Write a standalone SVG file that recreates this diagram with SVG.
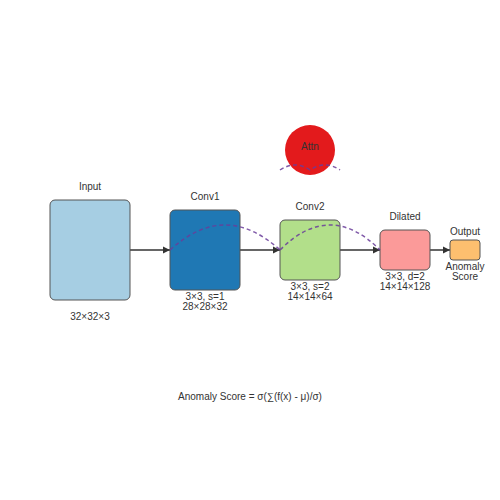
<svg xmlns="http://www.w3.org/2000/svg" width="500" height="500" viewBox="0 0 500 500">
<defs>
<style>
.box{stroke:#555;stroke-width:1}
.lbl{font-family:"Liberation Sans",Arial,sans-serif;font-size:10px;fill:#333;text-anchor:middle}
.conn{stroke:#333;stroke-width:1.5;fill:none}
.att{stroke:#6a3d9a;stroke-opacity:0.85;stroke-width:1.5;fill:none;stroke-dasharray:4,3}
</style>
<marker id="arr" viewBox="0 0 10 10" refX="10" refY="5" markerWidth="5" markerHeight="5.5" orient="auto" markerUnits="strokeWidth">
<path d="M0,0 L10,5 L0,10 Z" fill="#333"/>
</marker>
</defs>
<rect width="500" height="500" fill="#fff"/>
<g id="connectors">
<line class="conn" x1="130" y1="250" x2="170" y2="250" marker-end="url(#arr)"/>
<line class="conn" x1="240" y1="250" x2="280" y2="250" marker-end="url(#arr)"/>
<line class="conn" x1="340" y1="250" x2="380" y2="250" marker-end="url(#arr)"/>
<line class="conn" x1="430" y1="250" x2="450" y2="250" marker-end="url(#arr)"/>
</g>
<g id="input">
<rect class="box" x="50" y="200" width="80" height="100" rx="5" fill="#a6cee3"/>
<text class="lbl" x="90" y="190">Input</text>
<text class="lbl" x="90" y="320">32×32×3</text>
</g>
<g id="conv1">
<rect class="box" x="170" y="210" width="70" height="80" rx="5" fill="#1f78b4"/>
<text class="lbl" x="205" y="200">Conv1</text>
<text class="lbl" x="205" y="300">3×3, s=1</text>
<text class="lbl" x="205" y="310">28×28×32</text>
</g>
<g id="conv2">
<rect class="box" x="280" y="220" width="60" height="60" rx="5" fill="#b2df8a"/>
<text class="lbl" x="310" y="210">Conv2</text>
<text class="lbl" x="310" y="290">3×3, s=2</text>
<text class="lbl" x="310" y="300">14×14×64</text>
</g>
<g id="dilated">
<rect class="box" x="380" y="230" width="50" height="40" rx="5" fill="#fb9a99"/>
<text class="lbl" x="405" y="220">Dilated</text>
<text class="lbl" x="405" y="280">3×3, d=2</text>
<text class="lbl" x="405" y="290">14×14×128</text>
</g>
<g id="output">
<rect class="box" x="450" y="240" width="30" height="20" rx="3" fill="#fdbf6f"/>
<text class="lbl" x="465" y="235">Output</text>
<text class="lbl" x="465" y="270">Anomaly</text>
<text class="lbl" x="465" y="280">Score</text>
</g>
<g id="attn">
<circle cx="310" cy="150" r="25" fill="#e31a1c"/>
<text class="lbl" x="310" y="150">Attn</text>
</g>
<g id="attention-links">
<path class="att" d="M170,250 Q225,200 280,250"/>
<path class="att" d="M280,250 Q330,200 380,250"/>
<path class="att" d="M280,170 Q295,160 310,170 Q325,160 340,170"/>
</g>
<text class="lbl" x="250" y="400">Anomaly Score = σ(∑(f(x) - μ)/σ)</text>
</svg>
